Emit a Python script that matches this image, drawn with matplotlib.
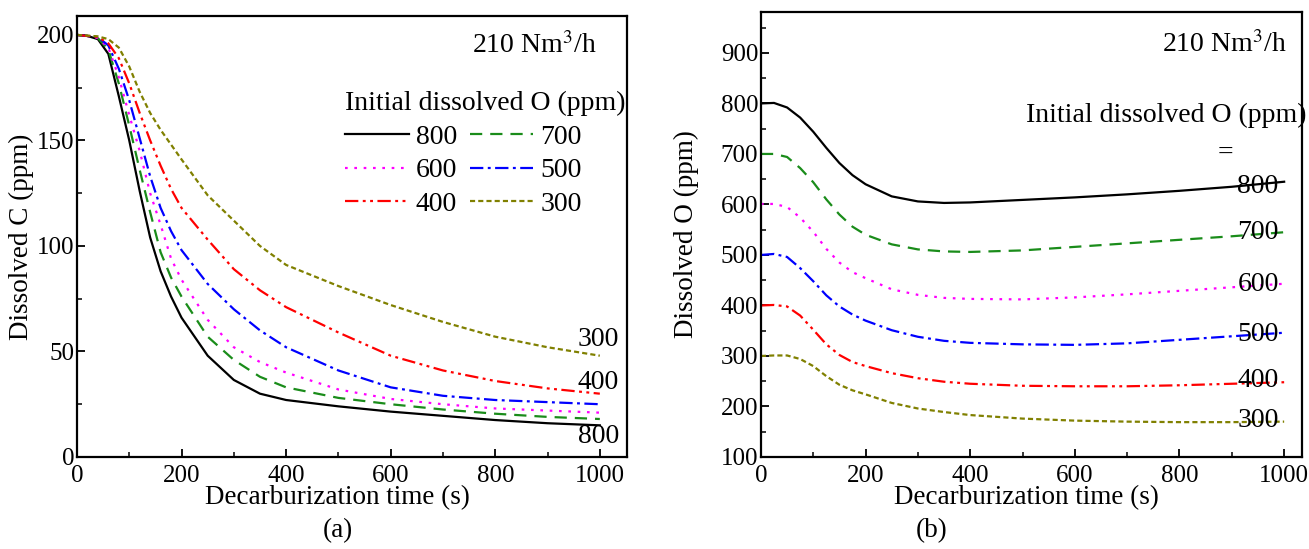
import matplotlib.pyplot as plt
from matplotlib.ticker import MultipleLocator

plt.rcParams["font.family"] = ["Liberation Serif", "DejaVu Serif"]
plt.rcParams["mathtext.fontset"] = "stix"

# time axis (s), shared by the (a) series
t = [0, 20, 40, 60, 80, 100, 120, 140, 160, 180, 200, 250, 300, 350, 400,
     500, 600, 700, 800, 900, 1000]

# (a) dissolved C (ppm) for each initial dissolved O
c_800 = [200, 199.5, 198, 191, 171, 150, 126, 104, 88, 76, 66, 48, 36.5, 30, 27,
         24, 21.5, 19.5, 17.5, 16, 15]
c_700 = [200, 199.5, 198.5, 193, 177, 157, 136, 116, 97, 85, 76, 57, 46, 38, 33,
         28, 25, 22.5, 20.5, 19, 18]
c_600 = [200, 199.5, 198.5, 194, 180, 162, 145, 125, 110, 94, 84, 65, 52, 45, 40,
         32, 27.5, 25, 23, 22, 21]
c_500 = [200, 199.5, 199, 195, 184, 169, 151, 133, 118, 107, 98, 82, 70, 60, 52,
         41, 33, 29, 27, 26, 25]
c_400 = [200, 199.5, 199, 196, 189, 177, 163, 150, 138, 127, 118, 103, 89, 79, 71,
         59, 48, 41, 36, 32.5, 30]
c_300 = [200, 199.7, 199.3, 198, 194, 185, 173, 163, 155, 148, 141, 124, 112, 100, 91,
         81, 72, 64, 57, 52, 48]

# (b) dissolved O (ppm)
t_o = [0, 25, 50, 75, 100, 125, 150, 175, 200, 250, 300, 350, 400, 500, 600,
       700, 800, 900, 1000]
o_800 = [800, 801, 792, 772, 744, 712, 682, 658, 640, 616, 606, 603, 604, 609,
         614, 620, 627, 635, 645]
o_700 = [700, 700, 694, 672, 644, 610, 580, 556, 540, 521, 511, 507, 506, 509,
         516, 523, 530, 537, 545]
o_600 = [601, 601, 595, 574, 546, 512, 485, 466, 454, 432, 421, 415, 413, 412,
         416, 422, 429, 436, 443]
o_500 = [500, 502, 496, 474, 448, 420, 398, 382, 370, 351, 338, 330, 326, 323,
         322, 325, 332, 339, 346]
o_400 = [400, 401, 398, 380, 352, 323, 302, 288, 280, 266, 256, 249, 245, 241,
         240, 240, 242, 245, 248]
o_300 = [300, 301, 301, 294, 280, 260, 243, 232, 224, 207, 196, 189, 183, 176,
         172, 170, 169, 169, 170]

labels = ["800", "700", "600", "500", "400", "300"]
colors = ["#000000", "#1a8c1a", "#ff00ff", "#0000ff", "#ff0000", "#808000"]
styles = ["-", (0, (5.5, 3.6)), (0, (1.2, 3)), (0, (6, 2, 1.3, 2)),
          (0, (6, 2, 1.3, 2, 1.3, 2)), (0, (2.3, 1.4))]

c_series = [c_800, c_700, c_600, c_500, c_400, c_300]
o_series = [o_800, o_700, o_600, o_500, o_400, o_300]

fig = plt.figure(figsize=(13.09, 5.49), dpi=100)
ax1 = fig.add_axes([0.0588, 0.1676, 0.4202, 0.8034])
ax2 = fig.add_axes([0.5813, 0.1676, 0.4137, 0.8105])

for ax in (ax1, ax2):
    for side in ax.spines.values():
        side.set_linewidth(1.6)
    ax.tick_params(direction="in", which="both", labelsize=18,
                   top=False, right=False)
    ax.tick_params(which="major", length=6, width=1.3, pad=2)
    ax.tick_params(axis="x", which="major", pad=6)
    ax.tick_params(which="minor", length=3.5, width=1.1)
    ax.xaxis.set_major_locator(MultipleLocator(200))
    ax.xaxis.set_minor_locator(MultipleLocator(100))
    ax.set_xlabel("Decarburization time (s)", fontsize=19.5, labelpad=0)

# panel (a)
lines = []
for y, lab, col, ls in zip(c_series, labels, colors, styles):
    ln, = ax1.plot(t, y, color=col, linestyle=ls, linewidth=1.6, label=lab)
    lines.append(ln)
ax1.set_xlim(0, 1052)
ax1.set_ylim(0, 209)
ax1.yaxis.set_major_locator(MultipleLocator(50))
ax1.yaxis.set_minor_locator(MultipleLocator(25))
ax1.set_ylabel("Dissolved C (ppm)", fontsize=19.5)
ax1.yaxis.set_label_coords(-0.078, 0.5)
ax1.xaxis.set_label_coords(0.473, -0.064)
ax1.text(994, 195, "210 Nm$^3$/h", fontsize=20, ha="right", va="center")
order = [0, 2, 4, 1, 3, 5]
ax1.legend([lines[i] for i in order], [labels[i] for i in order], ncol=2,
           title="Initial dissolved O (ppm)", frameon=False,
           fontsize=20, title_fontsize=20, loc="upper left",
           bbox_to_anchor=(0.487, 0.829), handlelength=2.3,
           columnspacing=0.45, handletextpad=0.25, labelspacing=0.29,
           alignment="left", borderaxespad=0, borderpad=0)
ax1.text(997, 55.5, "300", fontsize=20, ha="center", va="center")
ax1.text(997, 35.5, "400", fontsize=20, ha="center", va="center")
ax1.text(997, 9.5, "800", fontsize=20, ha="center", va="center")
fig.text(0.258, 0.033, "(a)", fontsize=19.5, ha="center", va="center")

# panel (b)
for y, lab, col, ls in zip(o_series, labels, colors, styles):
    ax2.plot(t_o, y, color=col, linestyle=ls, linewidth=1.6)
ax2.set_xlim(0, 1035)
ax2.set_ylim(100, 981)
ax2.yaxis.set_major_locator(MultipleLocator(100))
ax2.yaxis.set_minor_locator(MultipleLocator(50))
ax2.set_ylabel("Dissolved O (ppm)", fontsize=19.5)
ax2.yaxis.set_label_coords(-0.114, 0.5)
ax2.xaxis.set_label_coords(0.49, -0.064)
ax2.text(1004, 916, "210 Nm$^3$/h", fontsize=20, ha="right", va="center")
ax2.text(1042, 777, "Initial dissolved O (ppm)", fontsize=20, ha="right",
         va="center")
ax2.text(888, 702, "=", fontsize=20, ha="center", va="center")
label_y = [635, 544, 441, 342, 252, 173]
for lab, yy in zip(labels, label_y):
    ax2.text(950, yy, lab, fontsize=20, ha="center", va="center")
fig.text(0.712, 0.033, "(b)", fontsize=19.5, ha="center", va="center")

fig.savefig("out.png", dpi=100)
